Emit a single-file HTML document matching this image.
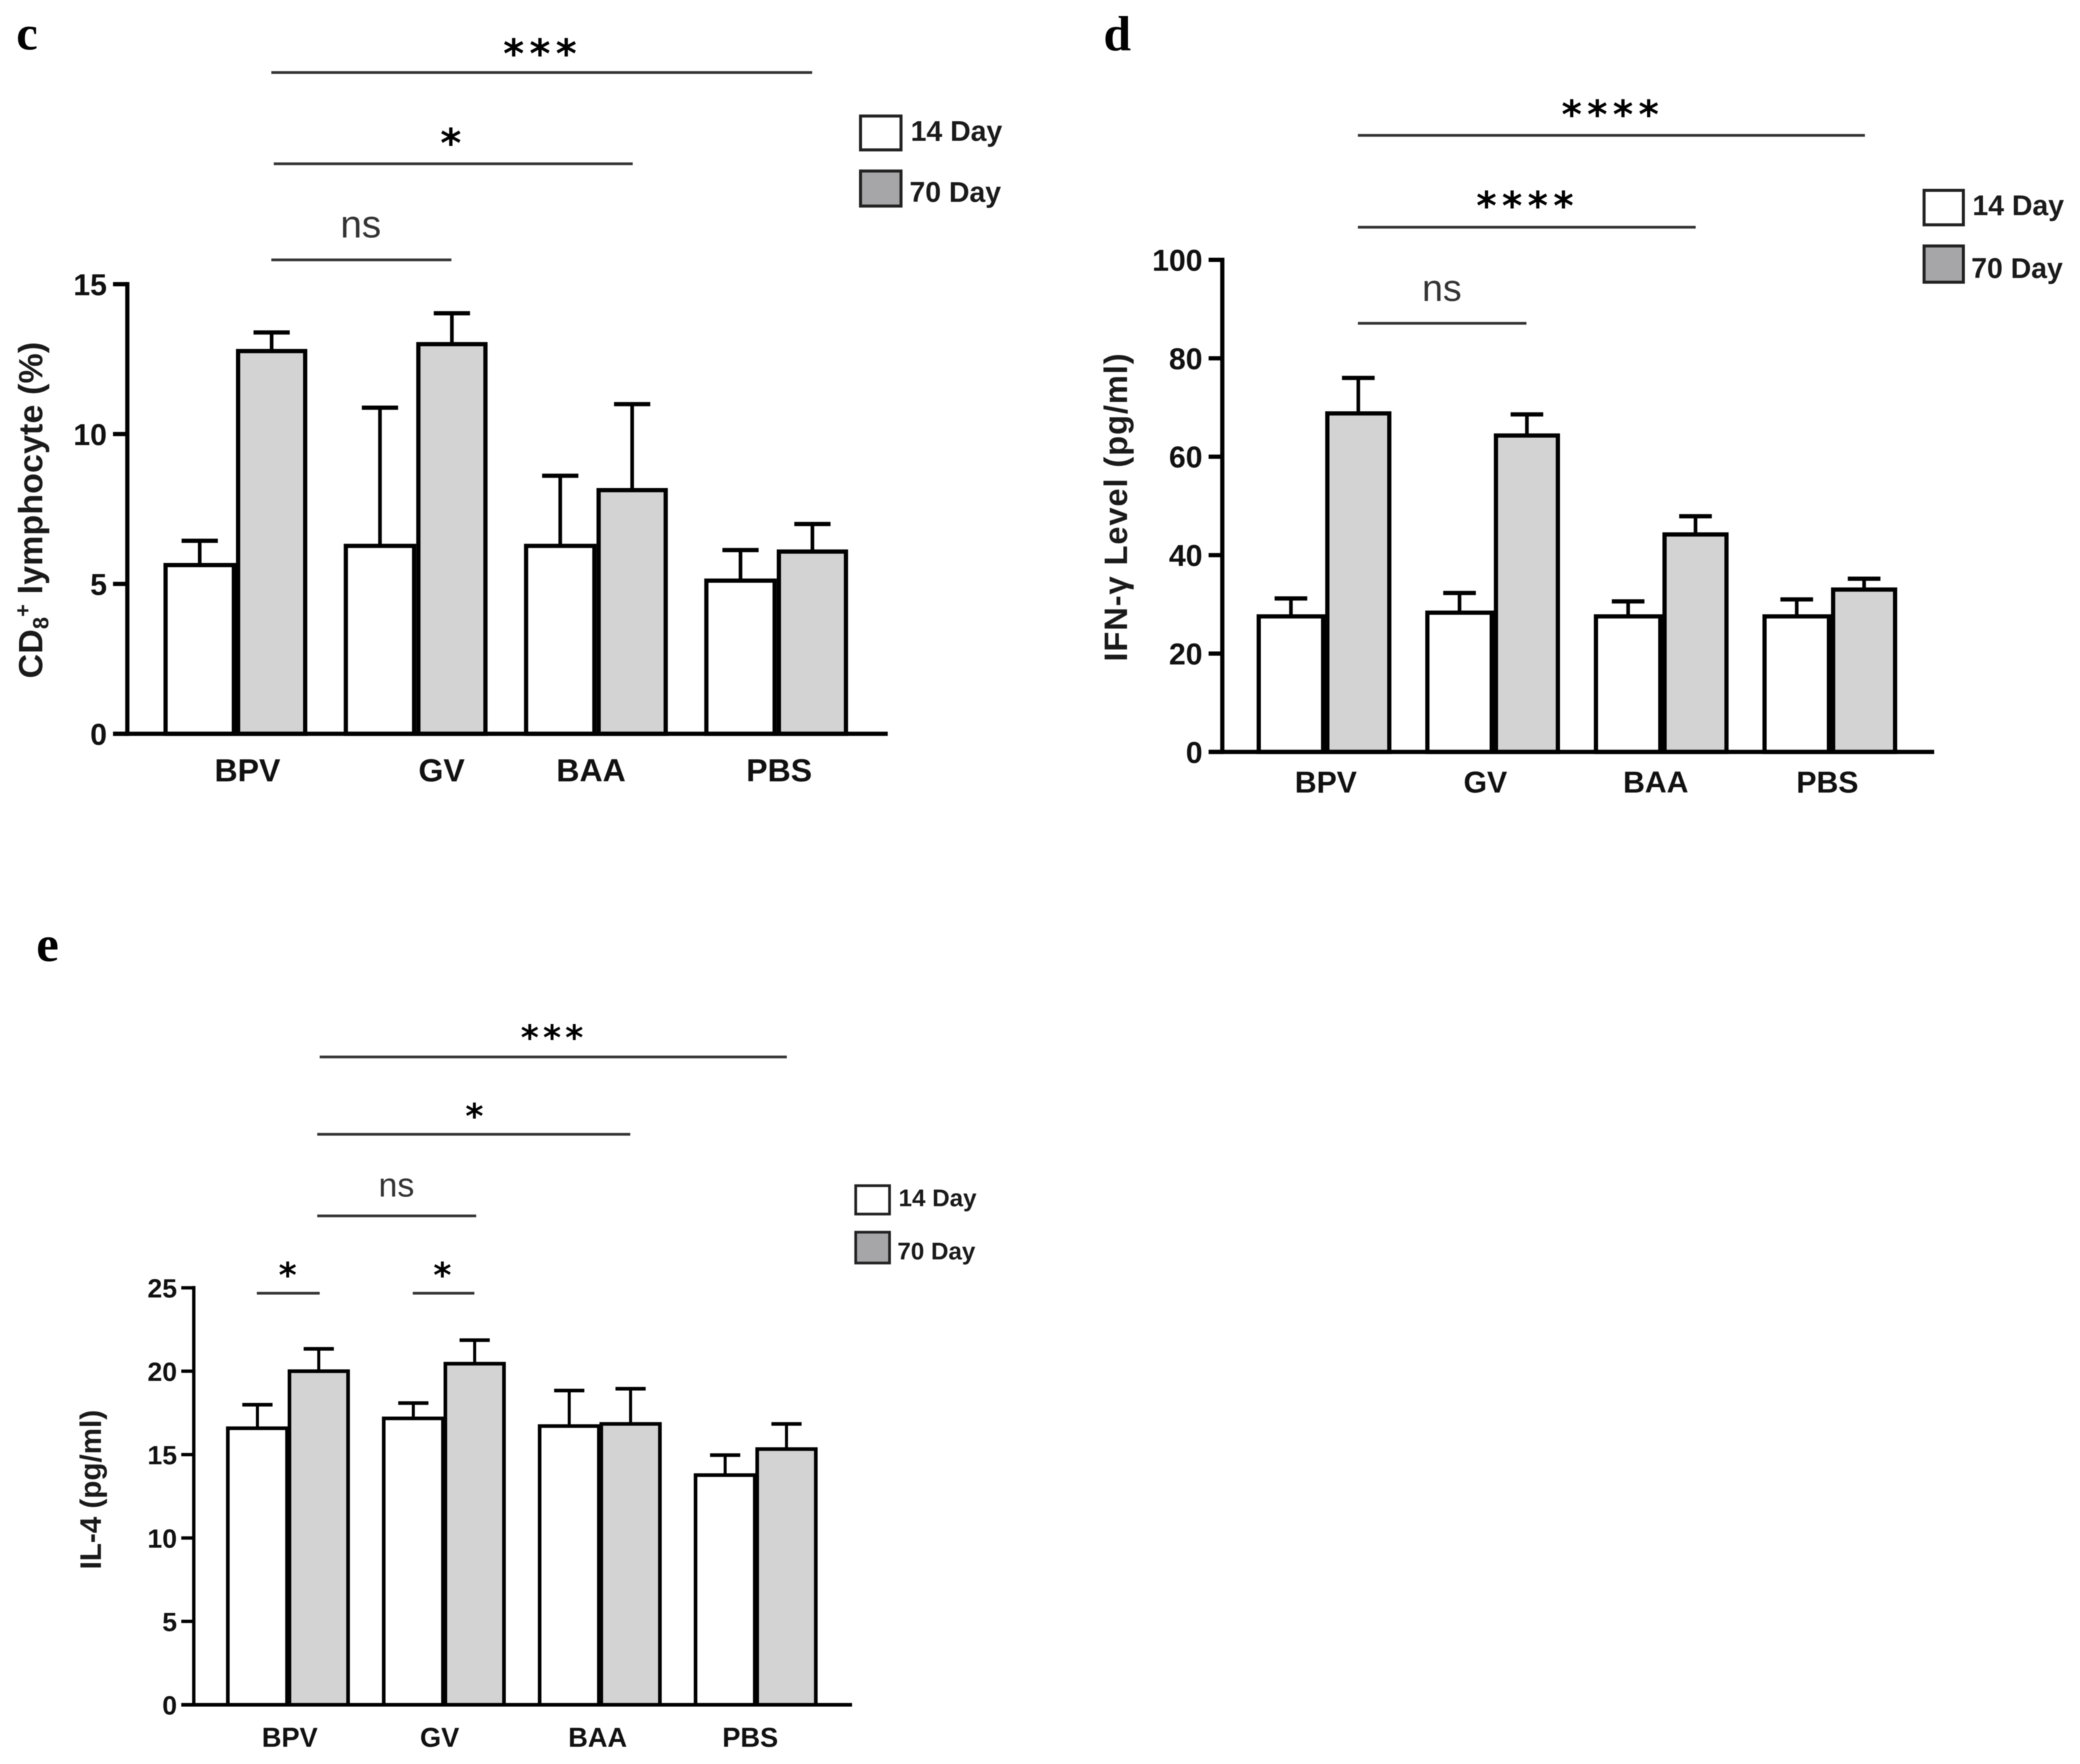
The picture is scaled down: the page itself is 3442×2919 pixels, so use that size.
<!DOCTYPE html>
<html lang="en">
<head>
<meta charset="utf-8">
<title>Immune response bar charts</title>
<style>
html,body{margin:0;padding:0;background:#fff;width:3442px;height:2919px;overflow:hidden}
svg{display:block;filter:blur(0.7px)}
.tick{font-family:"Liberation Sans",sans-serif;font-weight:700;fill:#111}
.title{font-family:"Liberation Sans","DejaVu Sans",sans-serif;font-weight:700;fill:#1a1a1a}
.leg{font-family:"Liberation Sans",sans-serif;font-weight:700;fill:#1a1a1a}
.star{font-family:"DejaVu Sans",sans-serif;font-weight:700;fill:#000;text-anchor:middle}
.ns{font-family:"Liberation Sans",sans-serif;font-weight:400;fill:#333;text-anchor:middle}
.letter{font-family:"Liberation Serif",serif;font-weight:700;fill:#000}
.sig{stroke:#333;stroke-width:4.5;fill:none}
</style>
</head>
<body>
<svg id="figure" xmlns="http://www.w3.org/2000/svg" width="3442" height="2919" viewBox="0 0 3442 2919">
  <rect width="3442" height="2919" fill="#fff"/>

  <!-- Panel c static -->
  <g>
    <text class="letter" x="27" y="82" font-size="80">c</text>
    <text class="title" x="70" y="844" font-size="56" text-anchor="middle" letter-spacing="0.3" transform="rotate(-90 70 844)">CD<tspan dy="10" font-size="36">8</tspan><tspan dy="-30" font-size="36">+</tspan><tspan dy="20"> lymphocyte (%)</tspan></text>
    <line class="sig" x1="449" y1="120" x2="1344" y2="120"/>
    <text class="star" x="898" y="112" font-size="66" letter-spacing="9">***</text>
    <line class="sig" x1="453" y1="271" x2="1047" y2="271"/>
    <text class="star" x="746" y="260" font-size="66">*</text>
    <line class="sig" x1="449" y1="430" x2="747" y2="430"/>
    <text class="ns" x="597" y="393" font-size="64">ns</text>
    <rect x="1424" y="192" width="67" height="56" fill="#fff" stroke="#222" stroke-width="5"/>
    <text class="leg" x="1507" y="233" font-size="47">14 Day</text>
    <rect x="1424" y="283" width="67" height="58" fill="#a6a6a9" stroke="#222" stroke-width="5"/>
    <text class="leg" x="1505" y="334" font-size="47">70 Day</text>
  </g>

  <!-- Panel d static -->
  <g>
    <text class="letter" x="1826" y="83" font-size="82">d</text>
    <text class="title" x="1865" y="839" font-size="54" text-anchor="middle" letter-spacing="1.5" transform="rotate(-90 1865 839)">IFN-γ Level (pg/ml)</text>
    <line class="sig" x1="2247" y1="224" x2="3086" y2="224"/>
    <text class="star" x="2669" y="212" font-size="64" letter-spacing="9">****</text>
    <line class="sig" x1="2247" y1="376" x2="2806" y2="376"/>
    <text class="star" x="2528" y="363" font-size="64" letter-spacing="9">****</text>
    <line class="sig" x1="2247" y1="535" x2="2526" y2="535"/>
    <text class="ns" x="2386" y="498" font-size="62">ns</text>
    <rect x="3184" y="315" width="65" height="57" fill="#fff" stroke="#222" stroke-width="5"/>
    <text class="leg" x="3264" y="356" font-size="47">14 Day</text>
    <rect x="3184" y="407" width="65" height="60" fill="#a6a6a9" stroke="#222" stroke-width="5"/>
    <text class="leg" x="3262" y="460" font-size="47">70 Day</text>
  </g>

  <!-- Panel e static -->
  <g>
    <text class="letter" x="60" y="1590" font-size="84">e</text>
    <text class="title" x="167" y="2465" font-size="49" text-anchor="middle" transform="rotate(-90 167 2465)">IL-4 (pg/ml)</text>
    <line class="sig" x1="529" y1="1749" x2="1302" y2="1749"/>
    <text class="star" x="917" y="1737" font-size="57" letter-spacing="7">***</text>
    <line class="sig" x1="525" y1="1877" x2="1043" y2="1877"/>
    <text class="star" x="785" y="1867" font-size="57">*</text>
    <line class="sig" x1="525" y1="2012" x2="788" y2="2012"/>
    <text class="ns" x="656" y="1980" font-size="56">ns</text>
    <line class="sig" x1="425" y1="2140" x2="529" y2="2140"/>
    <text class="star" x="476" y="2130" font-size="57">*</text>
    <line class="sig" x1="683" y1="2140" x2="785" y2="2140"/>
    <text class="star" x="732" y="2130" font-size="57">*</text>
    <rect x="1416" y="1962" width="56" height="47" fill="#fff" stroke="#222" stroke-width="4.5"/>
    <text class="leg" x="1487" y="1996" font-size="40">14 Day</text>
    <rect x="1416" y="2039" width="56" height="51" fill="#a6a6a9" stroke="#222" stroke-width="4.5"/>
    <text class="leg" x="1485" y="2084" font-size="40">70 Day</text>
  </g>

  <g id="plots"></g>
</svg>

<script>
// ---- Data ----
const categories = ['BPV', 'GV', 'BAA', 'PBS'];

const cd8Ticks = [0, 5, 10, 15];
const cd8Day14 = [5.63, 6.27, 6.27, 5.11];
const cd8Day70 = [12.77, 13.0, 8.13, 6.08];
const cd8Err14 = [0.81, 4.61, 2.34, 1.02];
const cd8Err70 = [0.62, 1.03, 2.87, 0.92];

const ifnTicks = [0, 20, 40, 60, 80, 100];
const ifnDay14 = [27.55, 28.3, 27.55, 27.55];
const ifnDay70 = [68.8, 64.3, 44.2, 33.0];
const ifnErr14 = [3.65, 4.0, 3.05, 3.45];
const ifnErr70 = [7.2, 4.3, 3.7, 2.2];

const il4Ticks = [0, 5, 10, 15, 20, 25];
const il4Day14 = [16.58, 17.17, 16.71, 13.77];
const il4Day70 = [20.0, 20.45, 16.84, 15.33];
const il4Err14 = [1.41, 0.92, 2.13, 1.2];
const il4Err70 = [1.34, 1.41, 2.11, 1.51];

// ---- Layout ----
const SVG_NS = 'http://www.w3.org/2000/svg';
const plots = document.getElementById('plots');

function mk(parent, tag, attrs) {
  const el = document.createElementNS(SVG_NS, tag);
  for (const k in attrs) el.setAttribute(k, attrs[k]);
  parent.appendChild(el);
  return el;
}

function drawPanel(p) {
  const g = mk(plots, 'g', {});
  
  

  const y = v => p.y0 - v * p.unit;
  const left14 = i => p.x0 + i * p.step;
  const left70 = i => left14(i) + p.w14 + p.gap;

  function bar(i, value, err, seriesName, left, width, fill) {
    const top = y(value);
    const capY = y(value + err);
    const cx = left + width / 2;

    const stem = mk(g, 'line', { x1: cx, x2: cx, y1: top, y2: capY, stroke: '#000', 'stroke-width': p.stroke - 1 });
    
    

    const cap = mk(g, 'line', { x1: cx - p.cap, x2: cx + p.cap, y1: capY, y2: capY, stroke: '#000', 'stroke-width': p.stroke });
    
    

    const rect = mk(g, 'rect', { x: left, y: top, width: width, height: y(0) - top, fill: fill, stroke: '#000', 'stroke-width': p.stroke });
    
    
  }

  categories.forEach((name, i) => {
    bar(i, p.day14[i], p.err14[i], '14-day', left14(i), p.w14, '#ffffff');
    bar(i, p.day70[i], p.err70[i], '70-day', left70(i), p.w70, '#d3d3d3');

    const label = mk(g, 'text', {
      class: 'tick',
      x: left14(i) + (p.w14 + p.gap + p.w70) / 2 + p.labelNudge[i],
      y: p.catBaseline,
      'font-size': p.catFont,
      'text-anchor': 'middle'
    });
    label.textContent = name;
    
    
  });

  const top = y(p.ticks[p.ticks.length - 1]);
  const yAxis = mk(g, 'line', { x1: p.axisX, x2: p.axisX, y1: top - p.stroke / 2, y2: y(0) + p.stroke / 2, stroke: '#000', 'stroke-width': p.axisStroke });
  
  

  const xAxis = mk(g, 'line', { x1: p.tickStart, x2: p.axisEnd, y1: y(0), y2: y(0), stroke: '#000', 'stroke-width': p.stroke });
  
  

  p.ticks.forEach(t => {
    const mark = mk(g, 'line', { x1: p.tickStart, x2: p.axisX, y1: y(t), y2: y(t), stroke: '#000', 'stroke-width': p.axisStroke });
    
    

    const tl = mk(g, 'text', {
      class: 'tick',
      x: p.tickRight,
      y: y(t) + p.tickDrop,
      'font-size': p.tickFont,
      'text-anchor': 'end'
    });
    tl.textContent = String(t);
    
    
  });
}

drawPanel({
  id: 'c', ticks: cd8Ticks, day14: cd8Day14, day70: cd8Day70, err14: cd8Err14, err70: cd8Err70,
  y0: 1214.3, unit: 49.6, x0: 274, step: 298.3, w14: 113, gap: 7, w70: 111, cap: 30, stroke: 7, axisStroke: 7,
  axisX: 210.7, tickStart: 187, axisEnd: 1469, tickRight: 177, tickDrop: 18, tickFont: 50,
  catFont: 53, catBaseline: 1293, labelNudge: [20, 43, -8, 5]
});

drawPanel({
  id: 'd', ticks: ifnTicks, day14: ifnDay14, day70: ifnDay70, err14: ifnErr14, err70: ifnErr70,
  y0: 1244.3, unit: 8.143, x0: 2083, step: 279, w14: 106.5, gap: 7, w70: 102.5, cap: 27, stroke: 7, axisStroke: 7,
  axisX: 2022.7, tickStart: 2000, axisEnd: 3200.7, tickRight: 1990, tickDrop: 18, tickFont: 50,
  catFont: 50, catBaseline: 1311.7, labelNudge: [3, -12, -9, -4]
});

drawPanel({
  id: 'e', ticks: il4Ticks, day14: il4Day14, day70: il4Day70, err14: il4Err14, err70: il4Err70,
  y0: 2821, unit: 27.6, x0: 377, step: 258, w14: 98, gap: 4, w70: 97, cap: 25, stroke: 6, axisStroke: 5.5,
  axisX: 320.7, tickStart: 300, axisEnd: 1410, tickRight: 293, tickDrop: 16, tickFont: 44,
  catFont: 45, catBaseline: 2890.7, labelNudge: [3, -7, -3.5, -9]
});
</script>
</body>
</html>
